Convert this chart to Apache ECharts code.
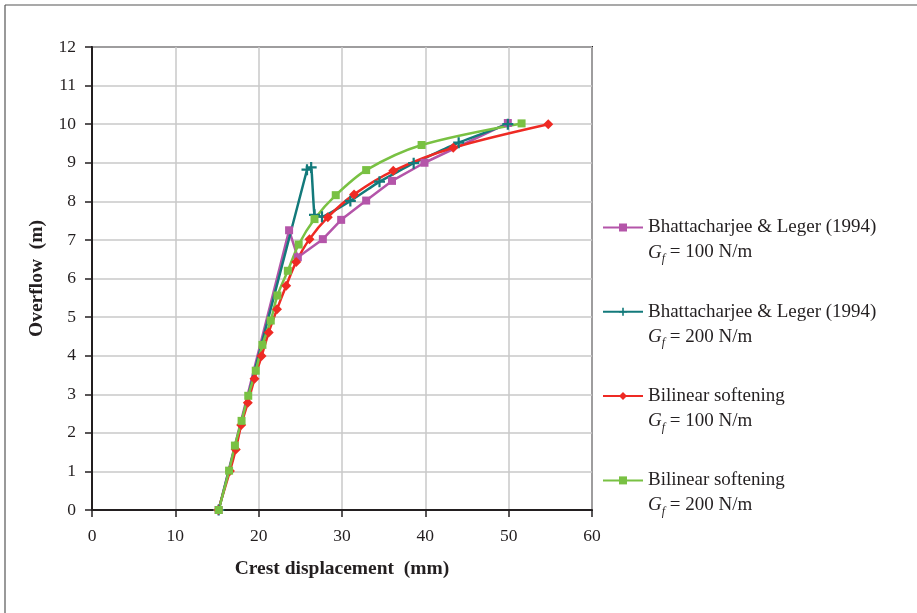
<!DOCTYPE html>
<html>
<head>
<meta charset="utf-8">
<script src="https://cdn.jsdelivr.net/npm/echarts@6/dist/echarts.min.js"></script>
<style>
  html, body { margin: 0; padding: 0; background: #fff; }
  #chart { width: 917px; height: 613px; }
</style>
</head>
<body>
<div id="chart"></div>
<script>
// points as [crest displacement (mm), overflow (m)]
const bhatta100 = [[15.2, 0], [23.65, 7.25], [24.7, 6.55], [27.7, 7.02], [29.9, 7.52],
    [32.9, 8.02], [36.0, 8.53], [39.9, 9.0], [49.9, 10.03]]
const bhatta200 = [[15.2, 0], [25.8, 8.82], [26.3, 8.88], [26.7, 7.65], [27.6, 7.6],
    [31.0, 8.01], [34.5, 8.51], [38.6, 8.99], [44.0, 9.52], [49.9, 10.0]]
const bilin100 = [[15.15, 0], [16.55, 1.01], [17.25, 1.57], [17.9, 2.2], [18.7, 2.78],
    [19.5, 3.4], [20.35, 3.99], [21.2, 4.6], [22.2, 5.2], [23.3, 5.81], [24.5, 6.43],
    [26.1, 7.02], [28.3, 7.59], [31.45, 8.18], [36.15, 8.79], [43.35, 9.39], [54.75, 10.0]]
const bilin200 = [[15.2, 0], [16.45, 1.02], [17.15, 1.67], [17.95, 2.31], [18.75, 2.96],
    [19.65, 3.61], [20.45, 4.28], [21.45, 4.91], [22.25, 5.56], [23.5, 6.2], [24.8, 6.88],
    [26.7, 7.54], [29.25, 8.16], [32.9, 8.81], [39.55, 9.46], [51.55, 10.02]]

const seriesNames = ['bh100', 'bh200', 'bl100', 'bl200']
const legendTitles = ['Bhattacharjee & Leger (1994)', 'Bhattacharjee & Leger (1994)',
    'Bilinear softening', 'Bilinear softening']
const legendGf = ['100', '200', '100', '200']
const xTicks = [0, 10, 20, 30, 40, 50, 60]
const yTicks = [0, 1, 2, 3, 4, 5, 6, 7, 8, 9, 10, 11, 12]

const ink = '#231f20'
const serif = '"Liberation Serif", "DejaVu Serif", serif'
const plus = 'path://M4,0 L6,0 L6,4 L10,4 L10,6 L6,6 L6,10 L4,10 L4,6 L0,6 L0,4 L4,4 Z'

function line(name, data, color, symbol, size, smooth) {
    return {
        name: name,
        type: 'line',
        data: data,
        smooth: smooth,
        symbol: symbol,
        symbolSize: size,
        color: color,
        lineStyle: { width: 2.5, color: color },
        itemStyle: { color: color },
        z: 3
    }
}

const chart = echarts.init(document.getElementById('chart'))
chart.setOption({
    animation: false,
    textStyle: { fontFamily: serif, color: ink },
    graphic: [
        { type: 'line', shape: { x1: 5, y1: 5, x2: 917, y2: 5 }, style: { stroke: '#555', lineWidth: 1.2 } },
        { type: 'line', shape: { x1: 5, y1: 5, x2: 5, y2: 613 }, style: { stroke: '#555', lineWidth: 1.2 } }
    ],
    grid: {
        left: 92, right: 325, top: 47, bottom: 103,
        show: true, borderColor: ink, borderWidth: 2
    },
    xAxis: {
        type: 'value',
        min: xTicks[0], max: xTicks[xTicks.length - 1], interval: 10,
        name: 'Crest displacement  (mm)',
        nameLocation: 'middle', nameGap: 49,
        nameTextStyle: { fontFamily: serif, fontSize: 19.5, fontWeight: 'bold', color: ink },
        axisLine: { lineStyle: { color: ink, width: 2 } },
        axisTick: { show: true, length: 7, lineStyle: { color: ink, width: 1.5 } },
        axisLabel: { fontFamily: serif, fontSize: 17.5, color: ink, margin: 17 },
        splitLine: { lineStyle: { color: '#c8c8c8', width: 1.5 } }
    },
    yAxis: {
        type: 'value',
        min: yTicks[0], max: yTicks[yTicks.length - 1], interval: 1,
        name: 'Overflow  (m)',
        nameLocation: 'middle', nameGap: 45,
        nameTextStyle: { fontFamily: serif, fontSize: 19.5, fontWeight: 'bold', color: ink },
        axisLine: { lineStyle: { color: ink, width: 2 } },
        axisTick: { show: true, length: 7, lineStyle: { color: ink, width: 1.5 } },
        axisLabel: { fontFamily: serif, fontSize: 17.5, color: ink, margin: 16 },
        splitLine: { lineStyle: { color: '#c8c8c8', width: 1.5 } }
    },
    legend: {
        orient: 'vertical',
        left: 597, top: 188,
        itemGap: 12.3,
        itemWidth: 40, itemHeight: 10,
        data: seriesNames,
        formatter: function (name) {
            const i = seriesNames.indexOf(name)
            return '{n| }\n{n|' + legendTitles[i] + '}\n{i|G}{s|f}{n| = ' + legendGf[i] + ' N/m}'
        },
        textStyle: {
            color: ink,
            rich: {
                n: { fontFamily: serif, fontSize: 19, lineHeight: 25, color: ink },
                i: { fontFamily: serif, fontSize: 19, lineHeight: 25, fontStyle: 'italic', color: ink },
                s: { fontFamily: serif, fontSize: 12, lineHeight: 14, fontStyle: 'italic', verticalAlign: 'bottom', color: ink }
            }
        }
    },
    series: [
        line('bh100', bhatta100, '#b455a9', 'rect', 8, false),
        line('bh200', bhatta200, '#137a7b', plus, 11, 0.1),
        line('bl100', bilin100, '#ee2a24', 'diamond', 10, 0.3),
        line('bl200', bilin200, '#79c143', 'rect', 8, 0.3)
    ]
})
</script>
</body>
</html>
